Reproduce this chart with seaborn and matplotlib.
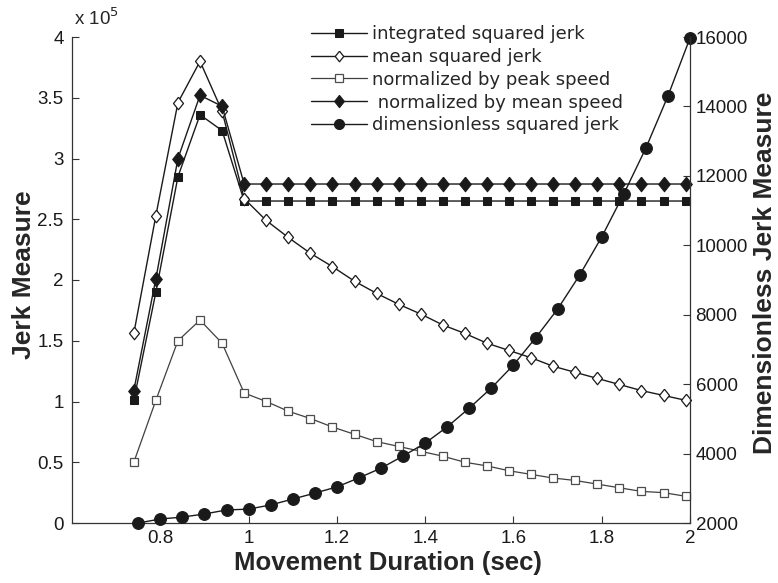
import matplotlib
matplotlib.use("Agg")
import matplotlib.pyplot as plt
import seaborn as sns
import numpy as np

sns.set_theme(style="white")
plt.rcParams['font.family'] = ['Liberation Sans', 'DejaVu Sans']

# ---- data ----
x_main = [0.74, 0.79, 0.84, 0.89, 0.94, 0.99, 1.04, 1.09, 1.14, 1.19, 1.24, 1.29, 1.34,
          1.39, 1.44, 1.49, 1.54, 1.59, 1.64, 1.69, 1.74, 1.79, 1.84, 1.89, 1.94, 1.99]
x_dimless = [0.75, 0.80, 0.85, 0.90, 0.95, 1.00, 1.05, 1.10, 1.15, 1.20, 1.25, 1.30, 1.35,
             1.40, 1.45, 1.50, 1.55, 1.60, 1.65, 1.70, 1.75, 1.80, 1.85, 1.90, 1.95, 2.00]

# left axis values in units of 1e5
integrated_sq_jerk = [1.01, 1.90, 2.85, 3.36, 3.23, 2.65, 2.65, 2.65, 2.65, 2.65, 2.65, 2.65, 2.65,
                      2.65, 2.65, 2.65, 2.65, 2.65, 2.65, 2.65, 2.65, 2.65, 2.65, 2.65, 2.65, 2.65]
mean_sq_jerk = [1.56, 2.53, 3.46, 3.80, 3.39, 2.67, 2.49, 2.35, 2.22, 2.11, 1.99, 1.89, 1.80,
                1.72, 1.63, 1.56, 1.48, 1.42, 1.36, 1.29, 1.24, 1.19, 1.14, 1.09, 1.05, 1.01]
norm_peak_speed = [0.50, 1.01, 1.50, 1.67, 1.48, 1.07, 1.00, 0.92, 0.86, 0.79, 0.73, 0.67, 0.63,
                   0.59, 0.55, 0.50, 0.47, 0.43, 0.40, 0.37, 0.35, 0.32, 0.29, 0.26, 0.25, 0.22]
norm_mean_speed = [1.09, 2.01, 3.00, 3.52, 3.43, 2.79, 2.79, 2.79, 2.79, 2.79, 2.79, 2.79, 2.79,
                   2.79, 2.79, 2.79, 2.79, 2.79, 2.79, 2.79, 2.79, 2.79, 2.79, 2.79, 2.79, 2.79]
# right axis
dimless_sq_jerk = [2000, 2115, 2170, 2260, 2375, 2400, 2520, 2690, 2860, 3040, 3300, 3580, 3930,
                   4300, 4770, 5310, 5890, 6550, 7330, 8160, 9140, 10240, 11480, 12800, 14300, 15970]

labels = ["integrated squared jerk", "mean squared jerk", "normalized by peak speed",
          " normalized by mean speed", "dimensionless squared jerk"]

x_ticks = [0.8, 1.0, 1.2, 1.4, 1.6, 1.8, 2.0]
x_ticklabels = ["0.8", "1", "1.2", "1.4", "1.6", "1.8", "2"]
y_ticks = [0, 0.5, 1, 1.5, 2, 2.5, 3, 3.5, 4]
y_ticklabels = ["0", "0.5", "1", "1.5", "2", "2.5", "3", "3.5", "4"]
y2_ticks = [2000, 4000, 6000, 8000, 10000, 12000, 14000, 16000]

# tall diamond marker (MATLAB style)
diamond = [(0, 1), (0.8, 0), (0, -1), (-0.8, 0), (0, 1)]

# ---- figure ----
fig = plt.figure(figsize=(7.78, 5.83), dpi=100)
ax = fig.add_axes([72/778, 1-523/583, (690-72)/778, (523-37)/583])
ax2 = ax.twinx()

lw = 1.0
sns.lineplot(x=x_main, y=integrated_sq_jerk, ax=ax, color='k', linewidth=lw, marker='s',
             markersize=6, markerfacecolor='k', markeredgecolor='k', label=labels[0],
             legend=False, clip_on=False)
sns.lineplot(x=x_main, y=mean_sq_jerk, ax=ax, color='k', linewidth=lw, marker=diamond,
             markersize=9, markerfacecolor='white', markeredgecolor='k', markeredgewidth=0.9,
             label=labels[1], legend=False, clip_on=False)
sns.lineplot(x=x_main, y=norm_peak_speed, ax=ax, color='0.25', linewidth=0.9, marker='s',
             markersize=6, markerfacecolor='white', markeredgecolor='0.3', markeredgewidth=0.9,
             label=labels[2], legend=False, clip_on=False)
sns.lineplot(x=x_main, y=norm_mean_speed, ax=ax, color='k', linewidth=lw, marker=diamond,
             markersize=10.5, markerfacecolor='k', markeredgecolor='k', label=labels[3],
             legend=False, clip_on=False)
sns.lineplot(x=x_dimless, y=dimless_sq_jerk, ax=ax2, color='k', linewidth=lw, marker='o',
             markersize=8.5, markerfacecolor='k', markeredgecolor='k', label=labels[4],
             legend=False, clip_on=False)

ax.set_xlim(0.6, 2.0)
ax.set_ylim(0, 4)
ax2.set_ylim(2000, 16000)
ax.set_xticks(x_ticks)
ax.set_xticklabels(x_ticklabels)
ax.set_yticks(y_ticks)
ax.set_yticklabels(y_ticklabels)
ax2.set_yticks(y2_ticks)
ax2.set_yticklabels([str(v) for v in y2_ticks])

for a in (ax, ax2):
    a.grid(False)
    a.spines['top'].set_visible(False)
    for s in a.spines.values():
        s.set_color('0.2')
        s.set_linewidth(0.9)
    a.tick_params(direction='in', length=5, width=0.8, colors='0.2', labelcolor='k',
                  labelsize=13.5)
ax.spines['right'].set_visible(False)
ax2.spines['left'].set_visible(False)
ax2.spines['bottom'].set_visible(False)
ax.tick_params(axis='y', pad=6, left=True)
ax.tick_params(axis='x', pad=5, bottom=True)
ax2.tick_params(axis='y', pad=4, right=True)

ax.set_xlabel("Movement Duration (sec)", fontsize=18.5, fontweight='bold')
ax.set_ylabel("Jerk Measure", fontsize=19, fontweight='bold')
ax2.set_ylabel("Dimensionless Jerk Measure", fontsize=19, fontweight='bold', rotation=90)

for lab in (ax.xaxis.label, ax.yaxis.label, ax2.yaxis.label):
    lab.set_rotation_mode('default')
    lab.set_ha('center')
    lab.set_va('center')
ax.xaxis.set_label_coords((388-72)/618, -(563-523)/486)
ax.yaxis.set_label_coords((24-72)/618, (523-275)/486)
ax2.yaxis.set_label_coords((765-72)/618, (523-273)/486)

fig.text(74/778, 1-25/583, r"x 10$^5$", fontsize=13.5, ha='left', va='baseline')

h1, l1 = ax.get_legend_handles_labels()
h2, l2 = ax2.get_legend_handles_labels()
leg = ax2.legend(h1 + h2, l1 + l2, loc='upper left', bbox_to_anchor=(311/778, 1-25/583),
                 bbox_transform=fig.transFigure, frameon=False,
                 prop={'family': 'DejaVu Sans', 'size': 13},
                 handlelength=3.1, handletextpad=0.3, labelspacing=0.27, borderpad=0,
                 borderaxespad=0, markerscale=0.85)

fig.savefig("out.png", dpi=100)
